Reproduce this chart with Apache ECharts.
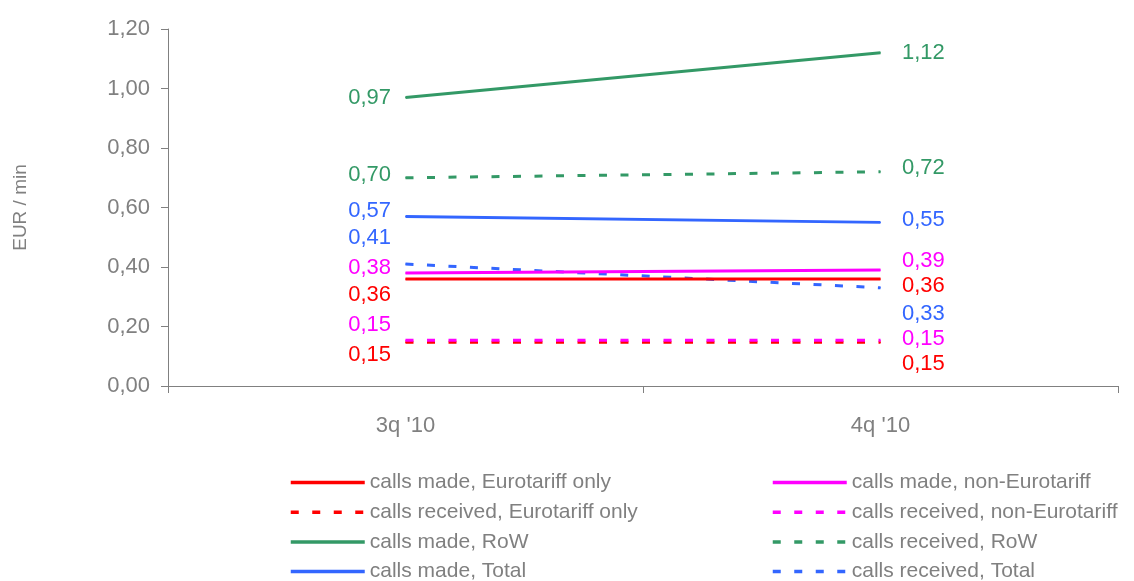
<!DOCTYPE html>
<html>
<head>
<meta charset="utf-8">
<script src="https://cdn.jsdelivr.net/npm/echarts@6/dist/echarts.min.js"></script>
<style>
  html, body { margin: 0; padding: 0; background: #fff; }
  #chart { width: 1134px; height: 581px; }
</style>
</head>
<body>
<div id="chart"></div>
<script>
// data
const categories = ["3q '10", "4q '10"];
const madeEuro = [0.36, 0.36];
const recvEuro = [0.147, 0.147];
const madeNonEuro = [0.38, 0.39];
const recvNonEuro = [0.154, 0.154];
const madeRoW = [0.97, 1.12];
const recvRoW = [0.70, 0.72];
const madeTotal = [0.57, 0.55];
const recvTotal = [0.41, 0.33];

const gray = '#808080';
const font = 'Liberation Sans, Arial, sans-serif';
const fmt = (v) => v.toFixed(2).replace('.', ',');

// series definitions (label offsets keep the end labels from overlapping)
const defs = [
  {name: 'calls made, Eurotariff only', data: madeEuro, color: '#ff0000', dashed: false, shift: [16, 7]},
  {name: 'calls received, Eurotariff only', data: recvEuro, color: '#ff0000', dashed: true, shift: [13, 22]},
  {name: 'calls made, RoW', data: madeRoW, color: '#339966', dashed: false, shift: [1, 0]},
  {name: 'calls made, Total', data: madeTotal, color: '#3366ff', dashed: false, shift: [-5, -2]},
  {name: 'calls made, non-Eurotariff', data: madeNonEuro, color: '#ff00ff', dashed: false, shift: [-5, -9]},
  {name: 'calls received, non-Eurotariff', data: recvNonEuro, color: '#ff00ff', dashed: true, shift: [-15, -1]},
  {name: 'calls received, RoW', data: recvRoW, color: '#339966', dashed: true, shift: [-3, -4]},
  {name: 'calls received, Total', data: recvTotal, color: '#3366ff', dashed: true, shift: [-26, 26]}
];

const series = defs.map((d) => ({
  name: d.name,
  type: 'line',
  symbol: 'circle',
  symbolSize: 1,
  showSymbol: true,
  color: d.color,
  itemStyle: {color: d.color},
  lineStyle: {color: d.color, width: 3, type: d.dashed ? [8, 13.5] : 'solid'},
  data: d.data.map((v, i) => ({
    value: v,
    label: {
      show: true,
      position: i === 0 ? 'left' : 'right',
      distance: i === 0 ? 14 : 21,
      offset: [0, d.shift[i]],
      color: d.color,
      fontFamily: font,
      fontSize: 22,
      formatter: (p) => fmt(p.value)
    }
  })),
  z: d.dashed ? 2 : 3
}));

// draw order: dashed first, solid on top, magenta above red
const order = [1, 5, 6, 7, 0, 4, 3, 2];

const legendText = {color: gray, fontFamily: font, fontSize: 21, lineHeight: 21};
const legendBase = {
  orient: 'vertical', top: 472, height: 140, padding: 0,
  itemWidth: 74, itemHeight: 12, itemGap: 8.7,
  textStyle: legendText,
  itemStyle: {opacity: 0},
  lineStyle: {width: 3.5},
  selectedMode: false
};

const option = {
  animation: false,
  backgroundColor: '#fff',
  grid: {left: 168, right: 16, top: 29, bottom: 195, containLabel: false, outerBoundsMode: 'none'},
  legend: [
    Object.assign({left: 289, data: defs.slice(0, 4).map((d) => d.name)}, legendBase),
    Object.assign({left: 771, data: defs.slice(4).map((d) => d.name)}, legendBase)
  ],
  xAxis: {
    type: 'category',
    data: categories,
    boundaryGap: true,
    axisLine: {lineStyle: {color: gray, width: 1}},
    axisTick: {show: true, length: 7, lineStyle: {color: gray}},
    axisLabel: {color: gray, fontFamily: font, fontSize: 22, margin: 29}
  },
  yAxis: {
    type: 'value',
    min: 0,
    max: 1.2,
    interval: 0.2,
    name: 'EUR / min',
    nameLocation: 'middle',
    nameRotate: 90,
    nameGap: 138,
    nameTextStyle: {color: gray, fontFamily: font, fontSize: 19},
    axisLine: {show: true, lineStyle: {color: gray, width: 1}},
    axisTick: {show: true, length: 7, lineStyle: {color: gray}},
    splitLine: {show: false},
    axisLabel: {color: gray, fontFamily: font, fontSize: 22, margin: 18, formatter: fmt}
  },
  series: order.map((i) => series[i])
};

const chart = echarts.init(document.getElementById('chart'));
chart.setOption(option);
</script>
</body>
</html>
